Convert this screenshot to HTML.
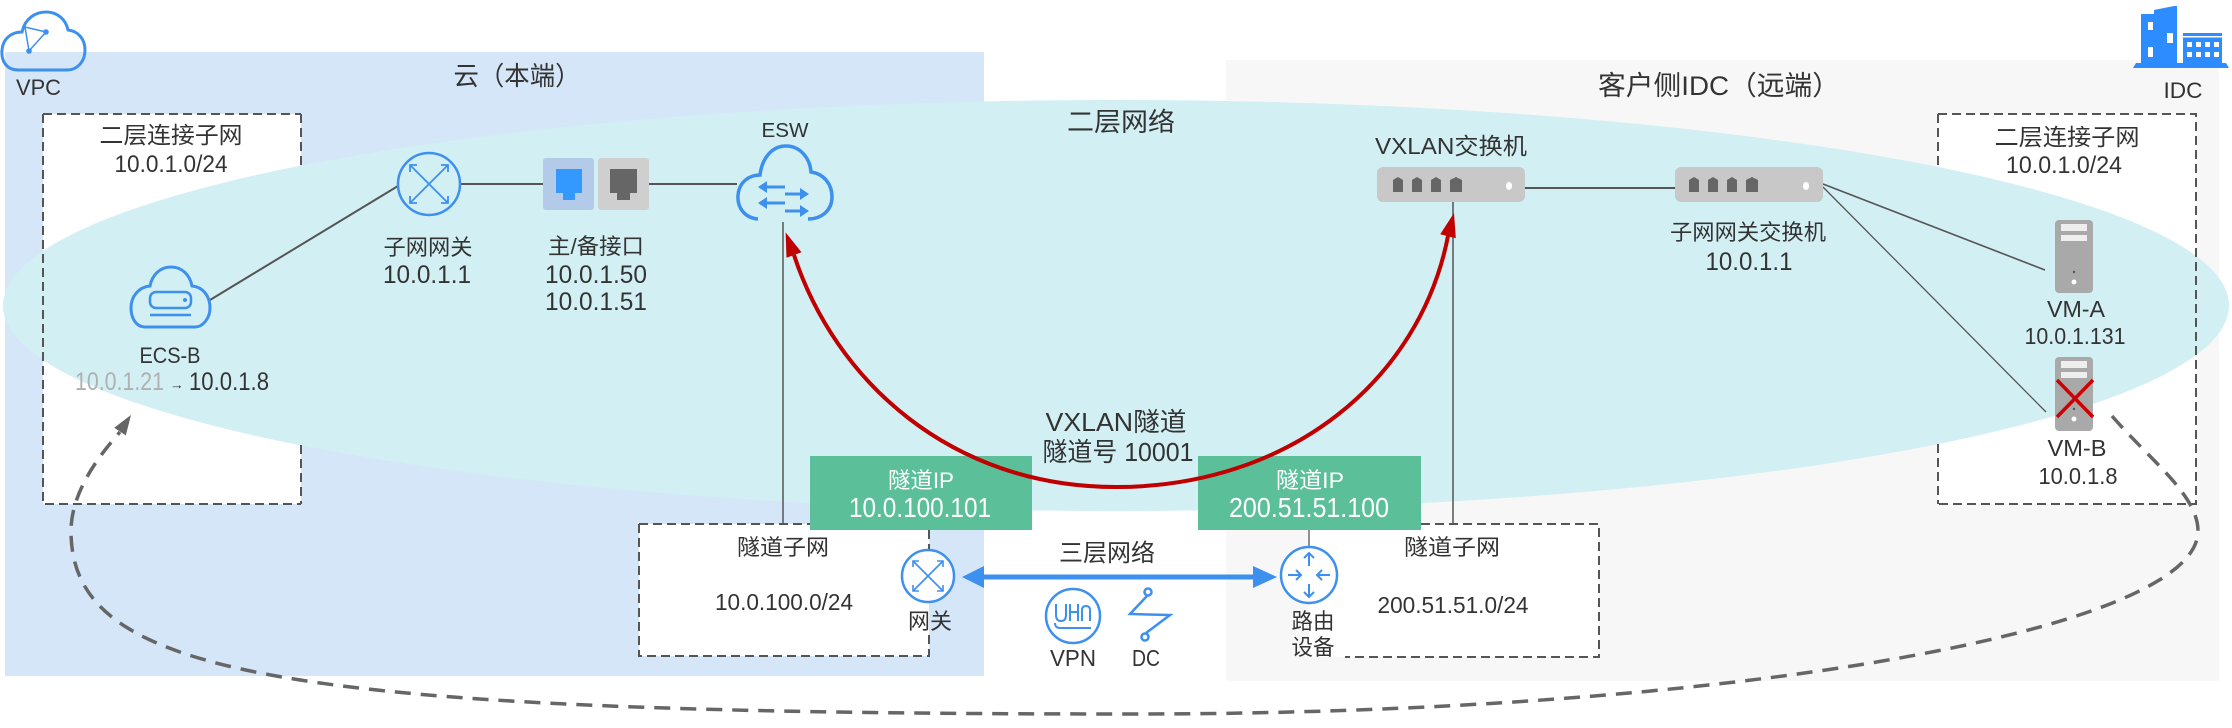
<!DOCTYPE html>
<html>
<head>
<meta charset="utf-8">
<style>
  html,body{margin:0;padding:0;background:#fff;overflow:hidden;}
  svg{display:block;}
  text{font-family:"Liberation Sans","Noto Sans CJK SC",sans-serif;fill:#333;}
</style>
</head>
<body>
<svg width="2232" height="728" viewBox="0 0 2232 728" xmlns="http://www.w3.org/2000/svg">
  <!-- region backgrounds -->
  <rect x="5" y="52" width="979" height="624" fill="#d4e6f8"/>
  <rect x="1226" y="60" width="993" height="621" fill="#f7f7f7"/>

  <!-- white subnet boxes (under ellipse) -->
  <rect x="43" y="114" width="258" height="390" fill="#fff"/>
  <rect x="1938" y="114" width="258" height="390" fill="#fff"/>

  <!-- layer-2 ellipse -->
  <ellipse cx="1116" cy="305.5" rx="1113" ry="205.5" fill="#d2eff4"/>

  <!-- visible dashed borders of subnet boxes -->
  <path d="M43 114 H301 M43 114 V504 H301 M301 114 V165 M301 445 V504" stroke="#555" stroke-width="2" stroke-dasharray="9 5" fill="none"/>
  <path d="M1938 114 H2196 V504 H1938 M1938 114 V167 M1938 444 V504" stroke="#555" stroke-width="2" stroke-dasharray="9 5" fill="none"/>

  <!-- tunnel subnet boxes -->
  <rect x="639" y="524" width="290" height="132" fill="#fff"/>
  <path d="M639 524 H810 M639 524 V656 H929 V634 M929 530 V549" stroke="#555" stroke-width="2" stroke-dasharray="9 5" fill="none"/>
  <rect x="1309" y="524" width="290" height="133" fill="#fff"/>
  <path d="M1421 524 H1599 V657 H1345" stroke="#555" stroke-width="2" stroke-dasharray="9 5" fill="none"/>

  <!-- green tunnel IP boxes -->
  <rect x="810" y="456" width="222" height="74" fill="#5bc09a"/>
  <rect x="1198" y="456" width="223" height="74" fill="#5bc09a"/>

  <!-- connector lines -->
  <g stroke="#555" stroke-width="2" fill="none">
    <line x1="210" y1="300" x2="398" y2="186"/>
    <line x1="461" y1="184" x2="543" y2="184"/>
    <line x1="649" y1="184" x2="737" y2="184"/>
    <line x1="783" y1="222" x2="783" y2="524" stroke-width="1.5"/>
    <line x1="1453" y1="202" x2="1453" y2="524" stroke-width="1.5"/>
    <line x1="1525" y1="188" x2="1675" y2="188"/>
    <line x1="1823" y1="184" x2="2045" y2="270" stroke-width="1.6"/>
    <line x1="1823" y1="187" x2="2046" y2="412" stroke-width="1.3"/>
    <line x1="1309" y1="530" x2="1309" y2="547" stroke-width="1.3"/>
  </g>

  <!-- VPC cloud icon -->
  <path d="M18 70 C6 70 1 60 2 50 C3 38 12 32 22 32 C25 18 36 12 46 12 C58 12 66 20 68 30 C78 31 85 39 85 50 C85 62 77 70 67 70 Z" fill="none" stroke="#3d90ee" stroke-width="3"/>
  <g stroke="#3d90ee" stroke-width="1.5" fill="none">
    <line x1="25" y1="27" x2="46" y2="32"/>
    <line x1="46" y1="32" x2="29" y2="51"/>
    <line x1="25" y1="27" x2="29" y2="51"/>
  </g>
  <circle cx="46" cy="32" r="2.8" fill="#3d90ee"/>
  <circle cx="29" cy="51" r="2.8" fill="#3d90ee"/>

  <!-- IDC building icon -->
  <g fill="#2d8cff">
    <polygon points="2133,68 2136,63 2226,63 2229,68"/>
    <polygon points="2141,63 2141,14 2154,14 2154,10 2174,6 2177,6 2177,63"/>
    <rect x="2183" y="33" width="39" height="30"/>
  </g>
  <g fill="#fff">
    <rect x="2148" y="22" width="5" height="8"/>
    <rect x="2167" y="33" width="6" height="10"/>
    <rect x="2148" y="47" width="5" height="10"/>
    <rect x="2183" y="36" width="39" height="1.5"/>
    <rect x="2187" y="42" width="5" height="5"/><rect x="2196" y="42" width="5" height="5"/><rect x="2205" y="42" width="5" height="5"/><rect x="2214" y="42" width="5" height="5"/>
    <rect x="2187" y="52" width="5" height="5"/><rect x="2196" y="52" width="5" height="5"/><rect x="2205" y="52" width="5" height="5"/><rect x="2214" y="52" width="5" height="5"/>
  </g>

  <!-- ECS-B icon -->
  <path d="M145 327 C136 327 131 318 131 308 C131 296 139 287 150 286 C152 275 160 267 171 267 C182 267 190 275 192 286 C203 287 210 296 210 308 C210 318 203 327 195 327 Z" fill="none" stroke="#3d90ee" stroke-width="3"/>
  <rect x="150" y="292" width="41" height="16" rx="6" fill="none" stroke="#3d90ee" stroke-width="2.5"/>
  <circle cx="185" cy="300" r="2" fill="#3d90ee"/>
  <line x1="150" y1="315" x2="191" y2="315" stroke="#3d90ee" stroke-width="2.5"/>

  <!-- Subnet gateway router (X style) -->
  <circle cx="429" cy="184" r="31" fill="none" stroke="#3d90ee" stroke-width="2.5"/>
  <g stroke="#3d90ee" stroke-width="1.8" fill="none">
    <line x1="410" y1="165" x2="448" y2="203"/>
    <line x1="448" y1="165" x2="410" y2="203"/>
    <polyline points="441,165 448,165 448,172"/>
    <polyline points="417,165 410,165 410,172"/>
    <polyline points="441,203 448,203 448,196"/>
    <polyline points="417,203 410,203 410,196"/>
  </g>

  <!-- primary/backup interfaces -->
  <rect x="543" y="158" width="51" height="52" rx="3" fill="#b3cae8"/>
  <path d="M556 169 H582 V193 H575 V200 H563 V193 H556 Z" fill="#3399ff"/>
  <rect x="598" y="158" width="51" height="52" rx="3" fill="#cfcfcf"/>
  <path d="M610 169 H637 V193 H630 V200 H617 V193 H610 Z" fill="#666"/>

  <!-- ESW cloud -->
  <path d="M758 219 C745 218 737 208 738 195 C739 183 748 175 760 175 C762 158 772 146 786 146 C800 146 810 158 811 172 C824 174 832 184 832 197 C832 210 822 219 808 219" fill="none" stroke="#3d90ee" stroke-width="3.5"/>
  <g stroke="#3d90ee" stroke-width="3" fill="none">
    <line x1="763" y1="187" x2="785" y2="187"/>
    <line x1="785" y1="194" x2="804" y2="194"/>
    <line x1="763" y1="203" x2="785" y2="203"/>
    <line x1="785" y1="211" x2="804" y2="211"/>
  </g>
  <g fill="#3d90ee">
    <polygon points="758,187 767,181 767,193"/>
    <polygon points="809,194 800,188 800,200"/>
    <polygon points="758,203 767,197 767,209"/>
    <polygon points="809,211 800,205 800,217"/>
  </g>

  <!-- VXLAN switch -->
  <rect x="1377" y="167" width="148" height="35" rx="6" fill="#c8c8c8"/>
  <g fill="#666">
    <path d="M1393 192 V180 L1398 177 L1403 180 V192 Z"/>
    <path d="M1412 192 V180 L1417 177 L1422 180 V192 Z"/>
    <path d="M1431 192 V180 L1436 177 L1441 180 V192 Z"/>
    <path d="M1450 192 V180 L1456 177 L1462 180 V192 Z"/>
  </g>
  <ellipse cx="1509" cy="186" rx="3" ry="4" fill="#fff"/>

  <!-- subnet gateway switch -->
  <rect x="1675" y="167" width="148" height="35" rx="6" fill="#c8c8c8"/>
  <g fill="#666">
    <path d="M1689 192 V180 L1694 177 L1699 180 V192 Z"/>
    <path d="M1708 192 V180 L1713 177 L1718 180 V192 Z"/>
    <path d="M1727 192 V180 L1732 177 L1737 180 V192 Z"/>
    <path d="M1746 192 V180 L1752 177 L1758 180 V192 Z"/>
  </g>
  <ellipse cx="1806" cy="186" rx="3" ry="4" fill="#fff"/>

  <!-- VM-A server -->
  <rect x="2055" y="220" width="38" height="73" rx="4" fill="#a9a9a9"/>
  <rect x="2061" y="224" width="26" height="7" fill="#eee"/>
  <rect x="2061" y="235" width="26" height="6" fill="#eee"/>
  <circle cx="2074" cy="272" r="1.2" fill="#555"/>
  <circle cx="2074" cy="282" r="2.5" fill="#fff"/>

  <!-- VM-B server -->
  <rect x="2055" y="357" width="38" height="74" rx="4" fill="#a9a9a9"/>
  <rect x="2061" y="361" width="26" height="7" fill="#eee"/>
  <rect x="2061" y="372" width="26" height="6" fill="#eee"/>
  <circle cx="2074" cy="409" r="1.2" fill="#555"/>
  <circle cx="2074" cy="419" r="2.5" fill="#fff"/>
  <g stroke="#d00000" stroke-width="3.5">
    <line x1="2057" y1="380" x2="2093" y2="417"/>
    <line x1="2093" y1="380" x2="2057" y2="417"/>
  </g>

  <!-- gateway router (left tunnel) -->
  <circle cx="928" cy="576" r="26" fill="#fff" stroke="#3d90ee" stroke-width="2.5"/>
  <g stroke="#3d90ee" stroke-width="1.6" fill="none">
    <line x1="913" y1="561" x2="943" y2="591"/>
    <line x1="943" y1="561" x2="913" y2="591"/>
    <polyline points="937,561 943,561 943,567"/>
    <polyline points="919,561 913,561 913,567"/>
    <polyline points="937,591 943,591 943,585"/>
    <polyline points="919,591 913,591 913,585"/>
  </g>

  <!-- route device (right tunnel) -->
  <circle cx="1309" cy="575" r="28" fill="#fff" stroke="#3d90ee" stroke-width="2.5"/>
  <g stroke="#3d90ee" stroke-width="2" fill="none">
    <line x1="1309" y1="553" x2="1309" y2="566"/>
    <polyline points="1304,558 1309,553 1314,558"/>
    <line x1="1309" y1="584" x2="1309" y2="597"/>
    <polyline points="1304,592 1309,597 1314,592"/>
    <line x1="1288" y1="575" x2="1301" y2="575"/>
    <polyline points="1296,570 1301,575 1296,580"/>
    <line x1="1317" y1="575" x2="1330" y2="575"/>
    <polyline points="1322,570 1317,575 1322,580"/>
  </g>

  <!-- blue L3 double arrow -->
  <line x1="982" y1="577" x2="1254" y2="577" stroke="#3d90ee" stroke-width="5"/>
  <polygon points="962,577 984,566 984,588" fill="#3d90ee"/>
  <polygon points="1277,577 1253,566 1253,588" fill="#3d90ee"/>

  <!-- VPN icon -->
  <circle cx="1073" cy="616" r="27" fill="none" stroke="#3d90ee" stroke-width="2.5"/>
  <g stroke="#3d90ee" stroke-width="2" fill="none">
    <path d="M1056 604 V615 Q1056 621 1061 621 Q1066 621 1066 615 V604"/>
    <path d="M1070 604 V621 M1070 612 H1078 M1078 604 V621"/>
    <path d="M1082 621 V610 Q1082 606 1086 606 Q1090 606 1090 610 V621"/>
    <path d="M1055 623 Q1055 628 1060 628 H1091"/>
  </g>

  <!-- DC icon -->
  <g stroke="#3d90ee" stroke-width="2.5" fill="none">
    <polyline points="1147,596 1130,614 1170,615 1146,633"/>
    <circle cx="1148" cy="592" r="3.5"/>
    <circle cx="1145" cy="637" r="3.5"/>
  </g>

  <!-- red VXLAN tunnel curve -->
  <path d="M794 255 C835 380 950 487 1116 487 C1290 487 1420 380 1448 236" fill="none" stroke="#c00000" stroke-width="4"/>
  <polygon points="785.6,232.4 801.5,252.2 786.5,257.8" fill="#c00000"/>
  <polygon points="1454,213 1455.8,238.3 1440.2,234.3" fill="#c00000"/>

  <!-- grey dashed migration curve -->
  <path d="M2112 416 C2150 460 2198 495 2198 531 C2198 632 1721 714 1134 714 C283 714 71 677 71 531 C71 495 95 460 120 432" fill="none" stroke="#666" stroke-width="3.5" stroke-dasharray="16 10"/>
  <polygon points="131,415 125.8,435.4 114.2,427.7" fill="#666"/>

  <!-- ===== TEXT ===== -->
  <text x="38.5" y="95" font-size="22" text-anchor="middle" textLength="45" lengthAdjust="spacingAndGlyphs">VPC</text>
  <text x="517" y="85" font-size="26" text-anchor="middle" textLength="127" lengthAdjust="spacingAndGlyphs">云（本端）</text>
  <text x="1719" y="95" font-size="27" text-anchor="middle" textLength="242" lengthAdjust="spacingAndGlyphs">客户侧IDC（远端）</text>
  <text x="2183" y="98" font-size="22" text-anchor="middle" textLength="39" lengthAdjust="spacingAndGlyphs">IDC</text>

  <text x="171" y="143" font-size="23" text-anchor="middle" textLength="143" lengthAdjust="spacingAndGlyphs">二层连接子网</text>
  <text x="171" y="172" font-size="24" text-anchor="middle" textLength="113" lengthAdjust="spacingAndGlyphs">10.0.1.0/24</text>
  <text x="2067" y="145" font-size="23" text-anchor="middle" textLength="145" lengthAdjust="spacingAndGlyphs">二层连接子网</text>
  <text x="2064" y="173" font-size="24" text-anchor="middle" textLength="116" lengthAdjust="spacingAndGlyphs">10.0.1.0/24</text>

  <text x="1121" y="131" font-size="26" text-anchor="middle" textLength="108" lengthAdjust="spacingAndGlyphs">二层网络</text>
  <text x="785" y="137" font-size="20" text-anchor="middle" textLength="47" lengthAdjust="spacingAndGlyphs">ESW</text>

  <text x="428" y="255" font-size="22" text-anchor="middle" textLength="89" lengthAdjust="spacingAndGlyphs">子网网关</text>
  <text x="427" y="283" font-size="25" text-anchor="middle" textLength="88" lengthAdjust="spacingAndGlyphs">10.0.1.1</text>
  <text x="596" y="254" font-size="22" text-anchor="middle" textLength="96" lengthAdjust="spacingAndGlyphs">主/备接口</text>
  <text x="596" y="283" font-size="25" text-anchor="middle" textLength="102" lengthAdjust="spacingAndGlyphs">10.0.1.50</text>
  <text x="596" y="310" font-size="25" text-anchor="middle" textLength="102" lengthAdjust="spacingAndGlyphs">10.0.1.51</text>

  <text x="1451" y="154" font-size="23" text-anchor="middle" textLength="152" lengthAdjust="spacingAndGlyphs">VXLAN交换机</text>
  <text x="1748" y="240" font-size="22" text-anchor="middle" textLength="156" lengthAdjust="spacingAndGlyphs">子网网关交换机</text>
  <text x="1749" y="270" font-size="25" text-anchor="middle" textLength="87" lengthAdjust="spacingAndGlyphs">10.0.1.1</text>

  <text x="2076" y="317" font-size="23" text-anchor="middle" textLength="58" lengthAdjust="spacingAndGlyphs">VM-A</text>
  <text x="2075" y="344" font-size="23" text-anchor="middle" textLength="101" lengthAdjust="spacingAndGlyphs">10.0.1.131</text>
  <text x="2077" y="456" font-size="23" text-anchor="middle" textLength="59" lengthAdjust="spacingAndGlyphs">VM-B</text>
  <text x="2078" y="484" font-size="23" text-anchor="middle" textLength="79" lengthAdjust="spacingAndGlyphs">10.0.1.8</text>

  <text x="170" y="363" font-size="22" text-anchor="middle" textLength="61" lengthAdjust="spacingAndGlyphs">ECS-B</text>
  <text x="75" y="390" font-size="25" textLength="89" lengthAdjust="spacingAndGlyphs" style="fill:#b0b0b0">10.0.1.21</text>
  <text x="170" y="389" font-size="13" textLength="14" lengthAdjust="spacingAndGlyphs">→</text>
  <text x="189" y="390" font-size="25" textLength="80" lengthAdjust="spacingAndGlyphs">10.0.1.8</text>

  <text x="1116" y="431" font-size="26" text-anchor="middle" textLength="141" lengthAdjust="spacingAndGlyphs">VXLAN隧道</text>
  <text x="1118" y="461" font-size="26" text-anchor="middle" textLength="151" lengthAdjust="spacingAndGlyphs">隧道号 10001</text>

  <text x="921" y="488" font-size="22" text-anchor="middle" textLength="66" lengthAdjust="spacingAndGlyphs" style="fill:#fff">隧道IP</text>
  <text x="920" y="517" font-size="28" text-anchor="middle" textLength="142" lengthAdjust="spacingAndGlyphs" style="fill:#fff">10.0.100.101</text>
  <text x="1310" y="488" font-size="22" text-anchor="middle" textLength="68" lengthAdjust="spacingAndGlyphs" style="fill:#fff">隧道IP</text>
  <text x="1309" y="517" font-size="28" text-anchor="middle" textLength="160" lengthAdjust="spacingAndGlyphs" style="fill:#fff">200.51.51.100</text>

  <text x="783" y="555" font-size="22" text-anchor="middle" textLength="92" lengthAdjust="spacingAndGlyphs">隧道子网</text>
  <text x="784" y="610" font-size="23" text-anchor="middle" textLength="138" lengthAdjust="spacingAndGlyphs">10.0.100.0/24</text>
  <text x="930" y="629" font-size="22" text-anchor="middle" textLength="44" lengthAdjust="spacingAndGlyphs">网关</text>

  <text x="1107" y="561" font-size="24" text-anchor="middle" textLength="96" lengthAdjust="spacingAndGlyphs">三层网络</text>
  <text x="1073" y="666" font-size="23" text-anchor="middle" textLength="46" lengthAdjust="spacingAndGlyphs">VPN</text>
  <text x="1146" y="666" font-size="23" text-anchor="middle" textLength="28" lengthAdjust="spacingAndGlyphs">DC</text>

  <text x="1313" y="629" font-size="22" text-anchor="middle" textLength="43" lengthAdjust="spacingAndGlyphs">路由</text>
  <text x="1313" y="655" font-size="22" text-anchor="middle" textLength="43" lengthAdjust="spacingAndGlyphs">设备</text>
  <text x="1452" y="555" font-size="22" text-anchor="middle" textLength="96" lengthAdjust="spacingAndGlyphs">隧道子网</text>
  <text x="1453" y="613" font-size="23" text-anchor="middle" textLength="151" lengthAdjust="spacingAndGlyphs">200.51.51.0/24</text>
</svg>
</body>
</html>
